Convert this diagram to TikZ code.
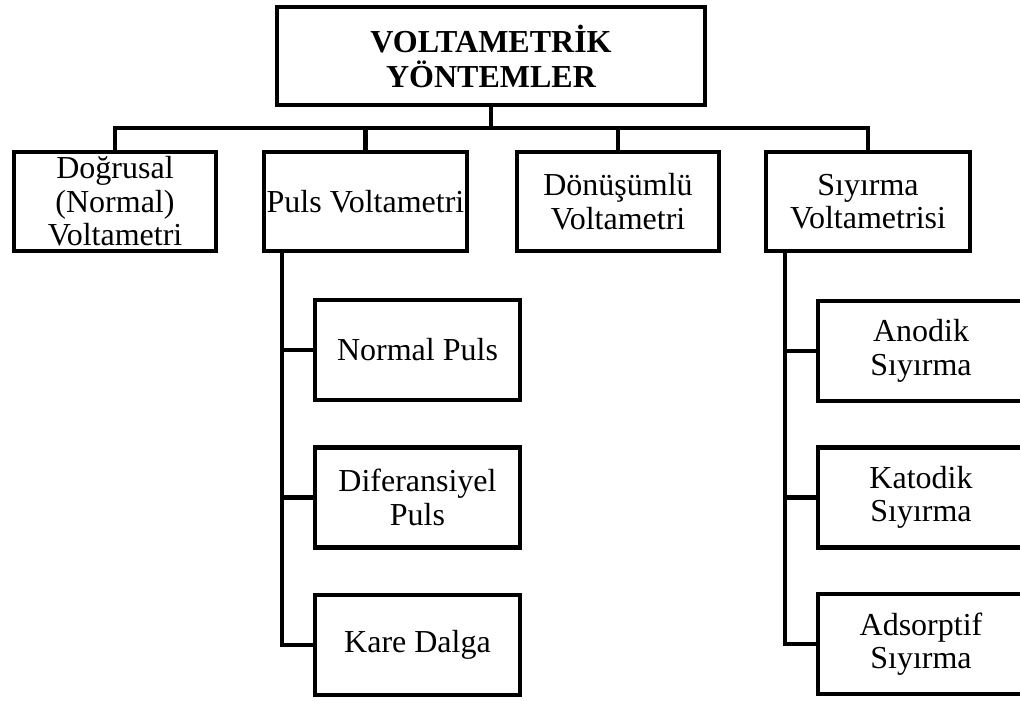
\documentclass[tikz,border=0pt]{standalone}
\usepackage{fontspec}
\setmainfont{Liberation Serif}
\begin{document}
\begin{tikzpicture}[x=1pt,y=-1pt,
  box/.style={draw,line width=4.5pt,align=center,inner sep=0pt,
    font=\fontsize{32}{33.5}\selectfont},
  lvl1/.style={box,minimum width=203pt,minimum height=99pt},
  kid/.style={box,minimum width=205pt,minimum height=100pt},
  conn/.style={line width=4.5pt}]
\useasboundingbox (0,0) rectangle (1020,701);
\node[box,minimum width=428pt,minimum height=98pt,
  font=\fontsize{32}{35}\selectfont\bfseries] (top) at (491,56) {VOLTAMETRİK\\YÖNTEMLER};
\node[lvl1,minimum width=202pt] (dog) at (115,201.5) {Doğrusal\\(Normal)\\Voltametri};
\node[lvl1] (puls) at (365.5,201.5) {Puls Voltametri};
\node[lvl1,minimum width=202pt] (don) at (618,201.5) {Dönüşümlü\\Voltametri};
\node[lvl1,minimum width=204pt] (siy) at (868,201.5) {Sıyırma\\Voltametrisi};
\node[kid] (np) at (417.5,350) {Normal Puls};
\node[kid] (dp) at (417.5,497.5) {Diferansiyel\\Puls};
\node[kid] (kd) at (417.5,645) {Kare Dalga};
\node[kid,minimum width=206pt] (an) at (921,351) {Anodik\\Sıyırma};
\node[kid,minimum width=206pt] (ka) at (921,497.5) {Katodik\\Sıyırma};
\node[kid,minimum width=206pt] (ad) at (921,644) {Adsorptif\\Sıyırma};
\coordinate (bus) at (491,128);
\coordinate (tl) at (282,0);
\coordinate (tr) at (785,0);
\draw[conn] (top.south) -- (bus);
\draw[conn] (dog.north) -- (dog.north |- bus) -| (siy.north);
\draw[conn] (puls.north) -- (puls.north |- bus);
\draw[conn] (don.north) -- (don.north |- bus);
\draw[conn] (puls.south -| tl) |- (kd.west);
\draw[conn] (tl |- np.west) -- (np.west);
\draw[conn] (tl |- dp.west) -- (dp.west);
\draw[conn] (siy.south -| tr) |- (ad.west);
\draw[conn] (tr |- an.west) -- (an.west);
\draw[conn] (tr |- ka.west) -- (ka.west);
\end{tikzpicture}
\end{document}
